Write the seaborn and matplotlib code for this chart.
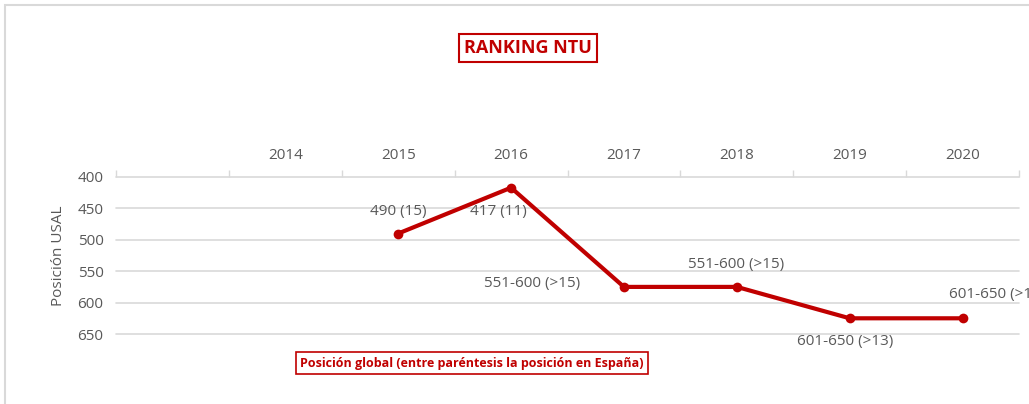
import numpy as np
import pandas as pd
import matplotlib
matplotlib.use("Agg")
import matplotlib.pyplot as plt
from matplotlib.patches import Rectangle
import seaborn as sns

years = ["", "2014", "2015", "2016", "2017", "2018", "2019", "2020"]
positions = [np.nan, np.nan, 490, 417, 575, 575, 625, 625]
labels = ["", "", "490 (15)", "417 (11)", "551-600 (>15)", "551-600 (>15)", "601-650 (>13)", "601-650 (>10)"]
y_ticks = [400, 450, 500, 550, 600, 650]

sns.set_style("white")
plt.rcParams["font.family"] = ["Open Sans", "DejaVu Sans"]

RED = "#c00000"
GRAY_TXT = "#595959"
GRID = "#d9d9d9"

W, H = 1029, 404
fig = plt.figure(figsize=(W / 100, H / 100), dpi=100)
ax = fig.add_axes([116 / W, 1 - 334 / H, (1019 - 116) / W, (334 - 177) / H])

df = pd.DataFrame({"x": np.arange(len(years)), "pos": positions})
sns.lineplot(data=df.dropna(), x="x", y="pos", ax=ax, color=RED, linewidth=3,
             marker="o", markersize=7, markeredgewidth=0, zorder=3)

ax.set_xlim(-0.5, len(years) - 0.5)
ax.set_ylim(650, 400)
ax.set_yticks(y_ticks)
ax.set_yticklabels([str(v) for v in y_ticks], color=GRAY_TXT, fontsize=11)
ax.tick_params(axis="y", length=0, pad=9)

ax.xaxis.tick_top()
ax.set_xticks(np.arange(len(years)))
ax.set_xticklabels(years, color=GRAY_TXT, fontsize=11)
ax.set_xticks(np.arange(len(years) + 1) - 0.5, minor=True)
ax.tick_params(axis="x", which="major", length=0, pad=10)
ax.tick_params(axis="x", which="minor", length=5, width=1, color=GRID, direction="out", top=True, bottom=False)

for s in ax.spines.values():
    s.set_visible(False)
ax.grid(False)
for v in y_ticks:
    ax.axhline(v, color=GRID, linewidth=1.2, zorder=1, clip_on=False)

ax.set_xlabel("")
ax.set_ylabel("Posición USAL", color=GRAY_TXT, fontsize=11, labelpad=8)

offsets = [None, None, (0, 22, "center"), (-13, -24, "center"), (-92, 3, "center"),
           (-1, 22, "center"), (-5, -23, "center"), (-14, 24, "left")]
for i, (p, lab, off) in enumerate(zip(positions, labels, offsets)):
    if off is None or np.isnan(p):
        continue
    dx, dy, ha = off
    ax.annotate(lab, xy=(i, p), xytext=(dx, dy), textcoords="offset pixels",
                ha=ha, va="center", color=GRAY_TXT, fontsize=11, annotation_clip=False)

fig.text(528 / W, 1 - 48 / H, "RANKING NTU", ha="center", va="center", color=RED,
         fontsize=13, fontweight="bold",
         bbox=dict(boxstyle="square,pad=0.3", facecolor="white", edgecolor=RED, linewidth=1.5))

fig.text(472 / W, 1 - 363 / H, "Posición global (entre paréntesis la posición en España)",
         ha="center", va="center", color=RED, fontsize=9, fontweight="bold",
         bbox=dict(boxstyle="square,pad=0.35", facecolor="white", edgecolor=RED, linewidth=1.2))

fig.patches.append(Rectangle((5 / W, -0.1), 1.2, (1 - 5 / H) + 0.1, transform=fig.transFigure,
                             fill=False, edgecolor=GRID, linewidth=1.5))

fig.savefig("out.png", dpi=100)
